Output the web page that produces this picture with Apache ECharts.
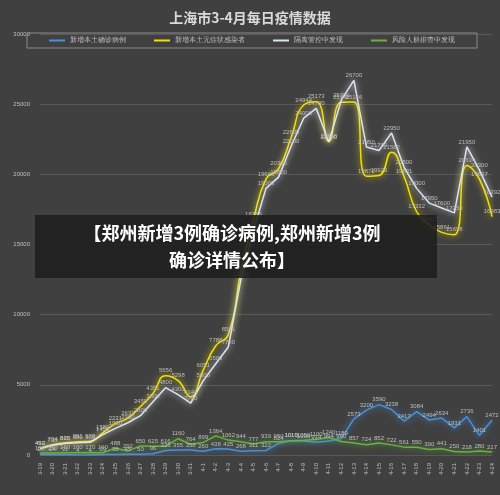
<!DOCTYPE html>
<html>
<head>
<meta charset="utf-8"/>
<title>上海市3-4月每日疫情数据</title>
<script src="https://cdn.jsdelivr.net/npm/echarts@6/dist/echarts.min.js"></script>
<style>
    html,body{margin:0;padding:0;background:#404040;}
    #main{width:500px;height:495px;}
</style>
</head>
<body>
<div id="main"></div>
<script>
    // dates 3-19 .. 4-24
    var days = ['3-19','3-20','3-21','3-22','3-23','3-24','3-25','3-26','3-27','3-28','3-29','3-30','3-31',
        '4-1','4-2','4-3','4-4','4-5','4-6','4-7','4-8','4-9','4-10','4-11','4-12','4-13','4-14','4-15','4-16',
        '4-17','4-18','4-19','4-20','4-21','4-22','4-23','4-24'];
    // 新增本土确诊病例
    var confirmed = [17,24,31,4,4,29,38,45,50,96,326,355,358,260,438,425,268,311,322,824,1015,1006,914,994,1189,
        2573,3200,3590,3238,2417,3084,2494,2634,1931,2736,1401,2472];
    // 新增本土无症状感染者
    var asymptomatic = [492,734,865,951,979,1580,2231,2631,3450,4381,5656,5298,4144,6051,7788,8581,13086,16766,
        19660,20398,22609,24944,25173,22348,25141,25146,19872,19923,21582,19831,17332,16407,15861,15698,20634,19657,16983];
    // 隔离管控中发现
    var isolated = [450,700,820,880,900,1450,1900,2300,2800,3800,4800,4300,3700,5300,6500,7700,12500,16000,
        19000,19800,22000,24000,24700,22300,25300,26700,21950,21700,22950,20500,19000,17950,17600,17250,21950,20300,18392];
    // 风险人群排查中发现
    var screened = [150,150,160,160,170,160,488,292,650,625,616,1160,764,899,1364,1062,944,777,939,950,1010,1050,
        1100,1240,960,857,724,852,722,561,550,390,441,250,218,280,217];

    var chart = echarts.init(document.getElementById('main'));

    function line(name, data, color, smooth){
        return {
            name: name, type: 'line', data: data, smooth: smooth,
            symbol: 'circle', symbolSize: 0, showSymbol: true,
            lineStyle: {color: color, width: 1.5, shadowColor: color, shadowBlur: 6},
            itemStyle: {color: color},
            label: {show: true, fontSize: 6, color: '#bdbdbd', position: 'top', distance: 2},
            labelLayout: {hideOverlap: false}
        };
    }

    chart.setOption({
        backgroundColor: '#404040',
        title: {
            text: '上海市3-4月每日疫情数据', left: 'center', top: 6,
            textStyle: {color: '#d9d9d9', fontSize: 14, fontWeight: 'bold', fontFamily: 'Noto Sans CJK SC'}
        },
        legend: {
            top: 33, left: 27, width: 450, itemWidth: 16, itemHeight: 2, itemGap: 28,
            borderColor: '#8a8a8a', borderWidth: 1, padding: [4, 22],
            icon: 'rect',
            textStyle: {color: '#bfbfbf', fontSize: 7}
        },
        grid: {left: 40, right: 8, top: 34, bottom: 40},
        xAxis: {
            type: 'category', data: days, boundaryGap: false,
            axisLine: {show: false}, axisTick: {show: false},
            axisLabel: {rotate: 90, fontSize: 6, color: '#bfbfbf', interval: 0}
        },
        yAxis: {
            type: 'value', min: 0, max: 30000, interval: 5000,
            axisLabel: {fontSize: 6, color: '#bfbfbf', margin: 10, formatter: function(v){ return String(v); }},
            splitLine: {lineStyle: {color: '#595959', width: 1}}
        },
        graphic: [{
            type: 'rect', left: 35, top: 215, z: 100, shape: {width: 402, height: 63},
            style: {fill: 'rgba(30,30,30,0.88)'}
        }, {
            type: 'text', x: 232, y: 220, z: 101,
            style: {
                text: '【郑州新增3例确诊病例,郑州新增3例\n确诊详情公布】',
                fill: '#ffffff', font: 'bold 18px "Noto Sans CJK SC"', lineHeight: 27, align: 'center'
            }
        }],
        series: [
            line('新增本土确诊病例', confirmed, '#4a90d9', false),
            line('新增本土无症状感染者', asymptomatic, '#f0e000', true),
            line('隔离管控中发现', isolated, '#dde2f0', false),
            line('风险人群排查中发现', screened, '#6ab23e', false)
        ]
    });
</script>
</body>
</html>
